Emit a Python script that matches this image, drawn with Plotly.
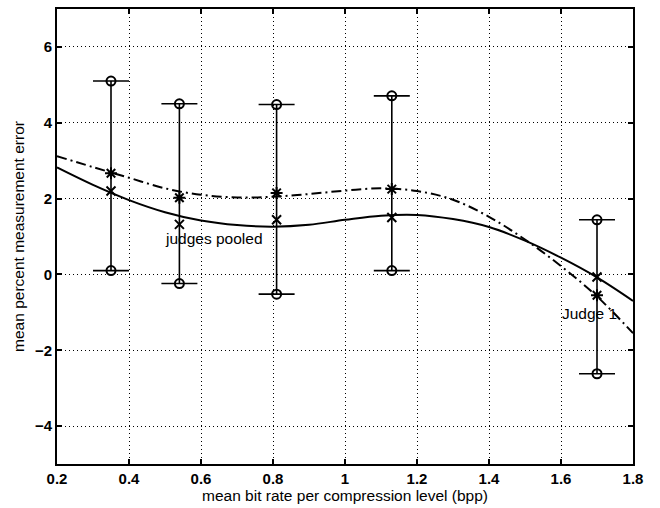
import plotly.graph_objects as go

# ---- data ----
levels_x = [0.35, 0.54, 0.81, 1.13, 1.70]
upper = [5.10, 4.50, 4.48, 4.71, 1.44]
lower = [0.10, -0.24, -0.52, 0.10, -2.62]
judge1_mean = [2.67, 2.02, 2.15, 2.25, -0.55]
pooled_mean = [2.20, 1.32, 1.44, 1.50, -0.07]

curve_x = [0.2, 0.3, 0.4, 0.5, 0.6, 0.7, 0.8, 0.9, 1.0, 1.1, 1.2, 1.3, 1.4, 1.5, 1.6, 1.7, 1.8]
pooled_curve = [2.82, 2.36, 1.96, 1.64, 1.42, 1.30, 1.26, 1.31, 1.44, 1.55, 1.57, 1.46, 1.25, 0.89, 0.44, -0.08, -0.70]
judge1_curve = [3.12, 2.83, 2.55, 2.27, 2.10, 2.03, 2.05, 2.12, 2.21, 2.27, 2.20, 1.97, 1.52, 0.92, 0.22, -0.58, -1.55]

x_ticks = [0.2, 0.4, 0.6, 0.8, 1.0, 1.2, 1.4, 1.6, 1.8]
x_ticktext = ["0.2", "0.4", "0.6", "0.8", "1", "1.2", "1.4", "1.6", "1.8"]
y_ticks = [-4, -2, 0, 2, 4, 6]
y_ticktext = ["\u22124", "\u22122", "0", "2", "4", "6"]

FONT = "Liberation Sans, Arial, sans-serif"

fig = go.Figure()

# fitted curves
fig.add_trace(go.Scatter(x=curve_x, y=pooled_curve, mode="lines",
                         line=dict(color="black", width=2, shape="spline"),
                         showlegend=False, hoverinfo="skip"))
fig.add_trace(go.Scatter(x=curve_x, y=judge1_curve, mode="lines",
                         line=dict(color="black", width=2, shape="spline",
                                   dash="10px,4px,2px,4px"),
                         showlegend=False, hoverinfo="skip"))

# error bars spanning lower..upper with caps
fig.add_trace(go.Scatter(
    x=levels_x, y=pooled_mean, mode="markers",
    marker=dict(symbol="x-thin-open", size=9, color="black",
                line=dict(color="black", width=2)),
    error_y=dict(type="data", symmetric=False,
                 array=[u - m for u, m in zip(upper, pooled_mean)],
                 arrayminus=[m - l for m, l in zip(pooled_mean, lower)],
                 color="black", thickness=1.6, width=18),
    showlegend=False))

# judge 1 means
fig.add_trace(go.Scatter(
    x=levels_x, y=judge1_mean, mode="markers",
    marker=dict(symbol="asterisk-open", size=10, color="black",
                line=dict(color="black", width=2)),
    showlegend=False))

# end circles
fig.add_trace(go.Scatter(
    x=levels_x + levels_x, y=upper + lower, mode="markers",
    marker=dict(symbol="circle-open", size=9, color="black",
                line=dict(color="black", width=2)),
    showlegend=False))

fig.add_annotation(x=0.494, y=0.94, text="judges pooled", showarrow=False,
                   xanchor="left", yanchor="middle",
                   font=dict(family=FONT, size=15.5, color="black"))
fig.add_annotation(x=1.597, y=-1.02, text="Judge 1", showarrow=False,
                   xanchor="left", yanchor="middle",
                   font=dict(family=FONT, size=15.5, color="black"))

axis_common = dict(
    showline=True, linecolor="black", linewidth=2, mirror="allticks",
    ticks="inside", ticklen=5, tickwidth=1.5, tickcolor="black",
    showgrid=True, gridcolor="black", gridwidth=1, griddash="1px,3px",
    zeroline=False,
    tickfont=dict(family=FONT, size=15, color="black", weight="bold"),
)

fig.update_xaxes(range=[0.2, 1.8], tickmode="array", tickvals=x_ticks,
                 ticktext=x_ticktext,
                 title=dict(text="mean bit rate per compression level (bpp)",
                            font=dict(family=FONT, size=15.5, color="black"),
                            standoff=3),
                 **axis_common)
fig.update_yaxes(range=[-5, 7], tickmode="array", tickvals=y_ticks,
                 ticktext=y_ticktext,
                 title=dict(text="mean percent measurement error",
                            font=dict(family=FONT, size=15.5, color="black"),
                            standoff=6),
                 **axis_common)

fig.update_layout(width=660, height=508,
                  margin=dict(l=57, r=27, t=7, b=43),
                  paper_bgcolor="white", plot_bgcolor="white",
                  showlegend=False)

fig.write_html("out.html")
